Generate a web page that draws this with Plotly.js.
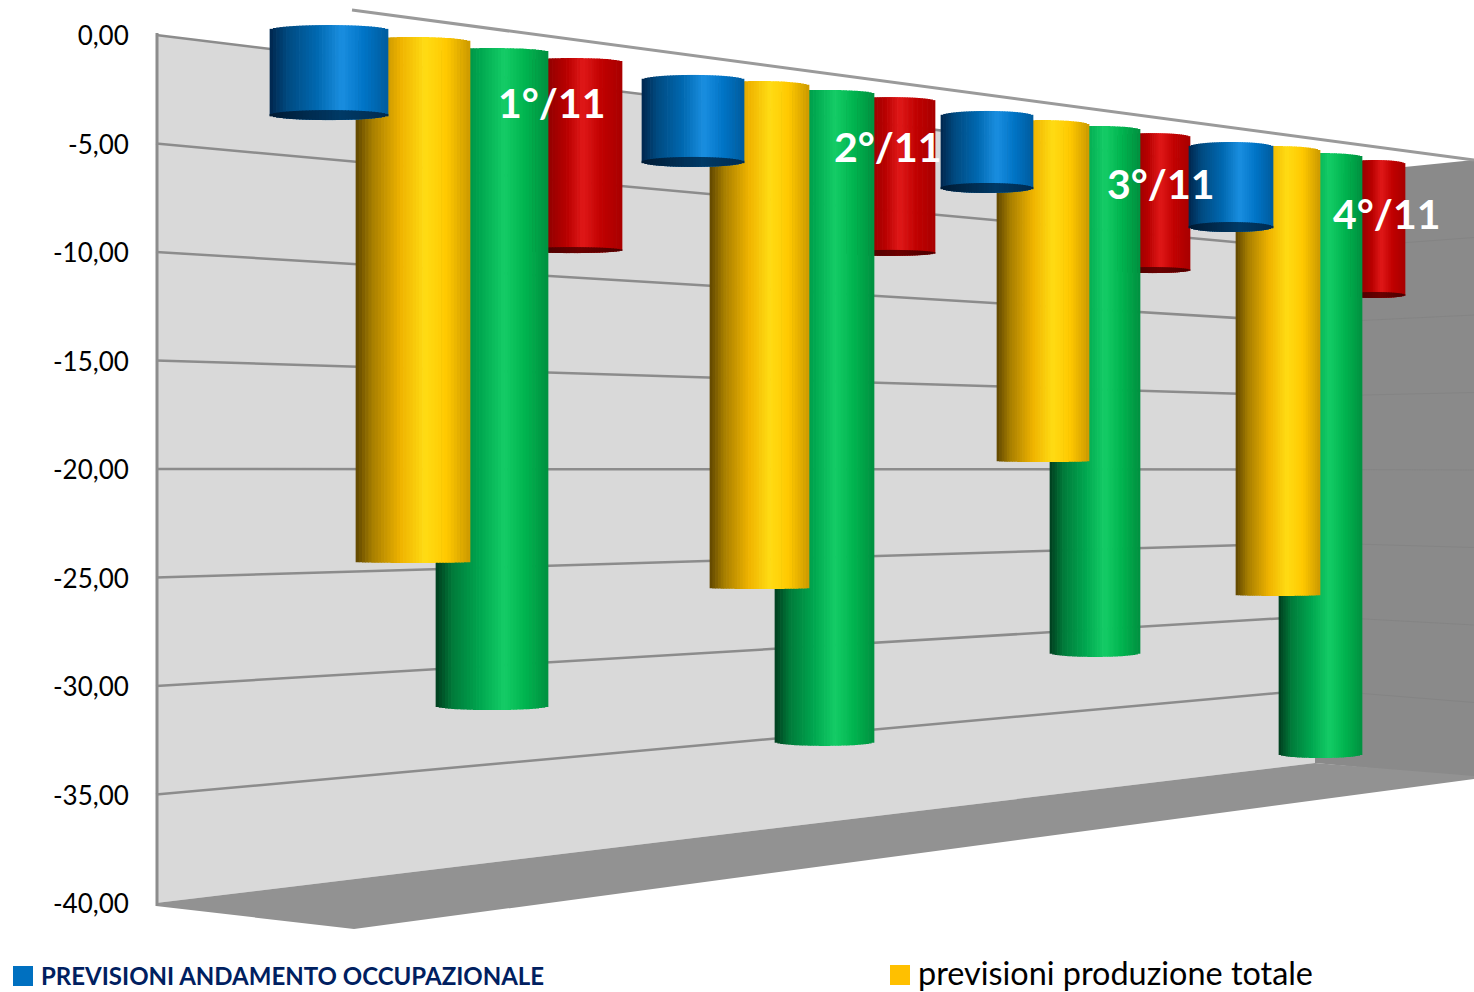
<!DOCTYPE html>
<html><head><meta charset="utf-8">
<script src="https://cdn.plot.ly/plotly-3.0.1.min.js"></script>
<style>html,body{margin:0;padding:0;background:#fff;overflow:hidden}#chart{width:1474px;height:992px}</style>
</head><body><div id="chart"></div>
<script>
// ---- data, read against the left axis (apparent position in the 3D view) ----
const categories = ['1°/11','2°/11','3°/11','4°/11'];
const tickValues = [0,-5,-10,-15,-20,-25,-30,-35,-40];
const tickLabels = ['0,00','-5,00','-10,00','-15,00','-20,00','-25,00','-30,00','-35,00','-40,00'];
const occupazioneTop = [0.46,-1.84,-3.50,-4.93];
const occupazione    = [-3.92,-6.08,-7.28,-9.08];
const produzioneTop  = [-0.09,-2.12,-3.92,-5.12];
const produzione     = [-24.33,-25.53,-19.68,-25.85];
const verdeTop       = [-0.60,-2.53,-4.19,-5.44];
const verde          = [-31.11,-32.76,-28.66,-33.32];
const rossoTop       = [-1.06,-2.86,-4.52,-5.76];
const rosso          = [-10.05,-10.18,-10.97,-12.12];

// ---- drawing geometry (pixels of the picture) ----
const W = 1474, H = 992, Y0 = 35, PX = 21.7;
const toV = py => (Y0 - py) / PX;
const spans = {
  rosso: [[522,622],[845,935],[1115,1190],[1345,1405]],
  verde: [[436,548],[775,874],[1050,1140],[1279,1362]],
  produzione: [[356,470],[710,809],[997,1089],[1236,1320]],
  occupazione: [[270,388],[642,744],[941,1033],[1189,1273]]
};
const ramps = {
  occupazione: [[0,'#00264d'],[.15,'#004a80'],[.4,'#0068b0'],[.61,'#1a8ee0'],[.8,'#0074c6'],[1,'#005c9e']],
  produzione: [[0,'#5f4600'],[.15,'#a87f00'],[.4,'#f0b400'],[.61,'#ffdc14'],[.8,'#ffc800'],[1,'#cc9a00']],
  verde: [[0,'#003d1e'],[.15,'#007a3a'],[.4,'#00a850'],[.61,'#14cc66'],[.8,'#00b44f'],[1,'#009040']],
  rosso: [[0,'#5a0000'],[.3,'#9a0000'],[.45,'#b80000'],[.61,'#e01818'],[.8,'#c00000'],[1,'#a80000']],
  capOcc: [[0,'#001a33'],[.6,'#003a66'],[1,'#002c50']],
  capRos: [[0,'#3a0000'],[.6,'#6a0000'],[1,'#4a0000']]
};
function hex(c){return [1,3,5].map(i=>parseInt(c.substr(i,2),16));}
function ramp(stops,t){
  for(let i=1;i<stops.length;i++){ if(t<=stops[i][0]){
    const a=stops[i-1],b=stops[i],f=(t-a[0])/(b[0]-a[0]),A=hex(a[1]),B=hex(b[1]);
    return 'rgb('+A.map((v,k)=>Math.round(v+(B[k]-v)*f)).join(',')+')';
  }}
  return stops[stops.length-1][1];
}
const N = 36;
function cylinder(name, spanList, tops, vals, stops, archT, archB, capUp, capStops){
  const x=[],w=[],base=[],y=[],col=[], cx=[],cw=[],cb=[],cy=[],cc=[];
  spanList.forEach((s,k)=>{
    const dx=(s[1]-s[0])/N;
    for(let i=0;i<N;i++){
      const t=(i+.5)/N, u=2*t-1, e=Math.sqrt(1-u*u);
      const top=tops[k]-(archT*(1-e))/PX, bot=vals[k]+(archB*(1-e))/PX;
      x.push(s[0]+dx*(i+.5)); w.push(dx+.7); base.push(bot); y.push(top-bot); col.push(ramp(stops,t));
      if(capStops){
        const corner=vals[k]+archB/PX;
        cx.push(s[0]+dx*(i+.5)); cw.push(dx+.7); cb.push(bot); cy.push(corner+capUp*e/PX-bot); cc.push(ramp(capStops,t));
      }
    }
  });
  const out=[{type:'bar',name:name,x:x,y:y,base:base,width:w,marker:{color:col,line:{width:0}},showlegend:false,hoverinfo:'skip'}];
  if(capStops) out.push({type:'bar',name:name+' (base)',x:cx,y:cy,base:cb,width:cw,marker:{color:cc,line:{width:0}},showlegend:false,hoverinfo:'skip'});
  return out;
}
const traces = [].concat(
  cylinder('rosso',spans.rosso,rossoTop,rosso,ramps.rosso,4,3,3,ramps.capRos),
  cylinder('verde',spans.verde,verdeTop,verde,ramps.verde,4,4),
  cylinder('previsioni produzione totale',spans.produzione,produzioneTop,produzione,ramps.produzione,5,1),
  cylinder('PREVISIONI ANDAMENTO OCCUPAZIONALE',spans.occupazione,occupazioneTop,occupazione,ramps.occupazione,5,5,5,ramps.capOcc)
);

// ---- walls of the 3D box ----
const backL={x:156,top:35,bot:903}, backR={x:1315,top:176,bot:763}, sideR={x:W,top:160,bot:780};
const backY=(v,xx)=>{const f=-v/40,l=backL.top+(backL.bot-backL.top)*f,r=backR.top+(backR.bot-backR.top)*f;return l+(r-l)*(xx-backL.x)/(backR.x-backL.x);};
const sideY=v=>{const f=-v/40;return sideR.top+(sideR.bot-sideR.top)*f;};
const P=pts=>'M'+pts.map(p=>p[0]+','+toV(p[1])).join(' L')+' Z';
const polygon=(pts,c)=>({type:'path',path:P(pts),xref:'x',yref:'y',fillcolor:c,line:{width:0},layer:'below'});
const seg=(x0,y0,x1,y1,c,lw)=>({type:'line',xref:'x',yref:'y',x0:x0,x1:x1,y0:toV(y0),y1:toV(y1),line:{color:c,width:lw},layer:'below'});
const shapes=[
  polygon([[backL.x,backL.top],[backR.x,backR.top],[backR.x,backR.bot],[backL.x,backL.bot]],'#d9d9d9'),
  polygon([[backR.x,backR.top],[sideR.x,sideR.top],[sideR.x,778],[backR.x,backR.bot]],'#8a8a8a'),
  polygon([[156,903],[backR.x,backR.bot],[W,776],[W,779],[354,929],[156,906]],'#929292'),
  seg(352,10,W,160,'#9a9a9a',3),
  seg(backL.x,backL.top,backR.x,backR.top,'#8c8c8c',2.5),
  seg(157,33,157,906,'#8c8c8c',3)
];
tickValues.slice(1,-1).forEach(v=>{
  shapes.push(seg(backL.x,backY(v,backL.x),backR.x,backY(v,backR.x),'#8c8c8c',2.5));
  shapes.push(seg(backR.x,backY(v,backR.x),sideR.x,sideY(v),'#848484',1));
});
shapes.push({type:'rect',xref:'x',yref:'y',x0:13,x1:33,y0:toV(966),y1:toV(986),fillcolor:'#0070c0',line:{width:0}});
shapes.push({type:'rect',xref:'x',yref:'y',x0:890,x1:910,y0:toV(965),y1:toV(985),fillcolor:'#ffc000',line:{width:0}});

const labelPos=[[551,102],[887,146],[1160,183],[1386,213]];
const annotations=categories.map((c,i)=>({text:'<b>'+c+'</b>',x:labelPos[i][0],y:toV(labelPos[i][1]),xref:'x',yref:'y',showarrow:false,
  xanchor:'center',yanchor:'middle',font:{family:'Lato',size:41,color:'#ffffff'}}));
annotations.push({text:'<b>PREVISIONI ANDAMENTO OCCUPAZIONALE</b>',x:38.5,y:toV(975.5),xref:'x',yref:'y',showarrow:false,xanchor:'left',yanchor:'middle',font:{family:'Lato',size:24,color:'#002060'}});
annotations.push({text:'previsioni produzione totale',x:916,y:toV(972.3),xref:'x',yref:'y',showarrow:false,xanchor:'left',yanchor:'middle',font:{family:'Lato',size:32.4,color:'#000000'}});

Plotly.newPlot('chart',traces,{
  width:W,height:H,margin:{l:0,r:0,t:0,b:0},paper_bgcolor:'#fff',plot_bgcolor:'#fff',
  barmode:'overlay',showlegend:false,
  xaxis:{visible:false,range:[0,W],fixedrange:true,domain:[0,1]},
  yaxis:{anchor:'free',position:156/W,range:[toV(H),toV(0)],tickmode:'array',tickvals:tickValues,ticktext:tickLabels,
    showgrid:false,zeroline:false,showline:false,ticks:'outside',ticklen:22,tickcolor:'rgba(0,0,0,0)',
    ticklabelshift:1,tickfont:{family:'Lato',size:26,color:'#000'},fixedrange:true},
  shapes:shapes,annotations:annotations
},{displayModeBar:false,staticPlot:true});
</script></body></html>
